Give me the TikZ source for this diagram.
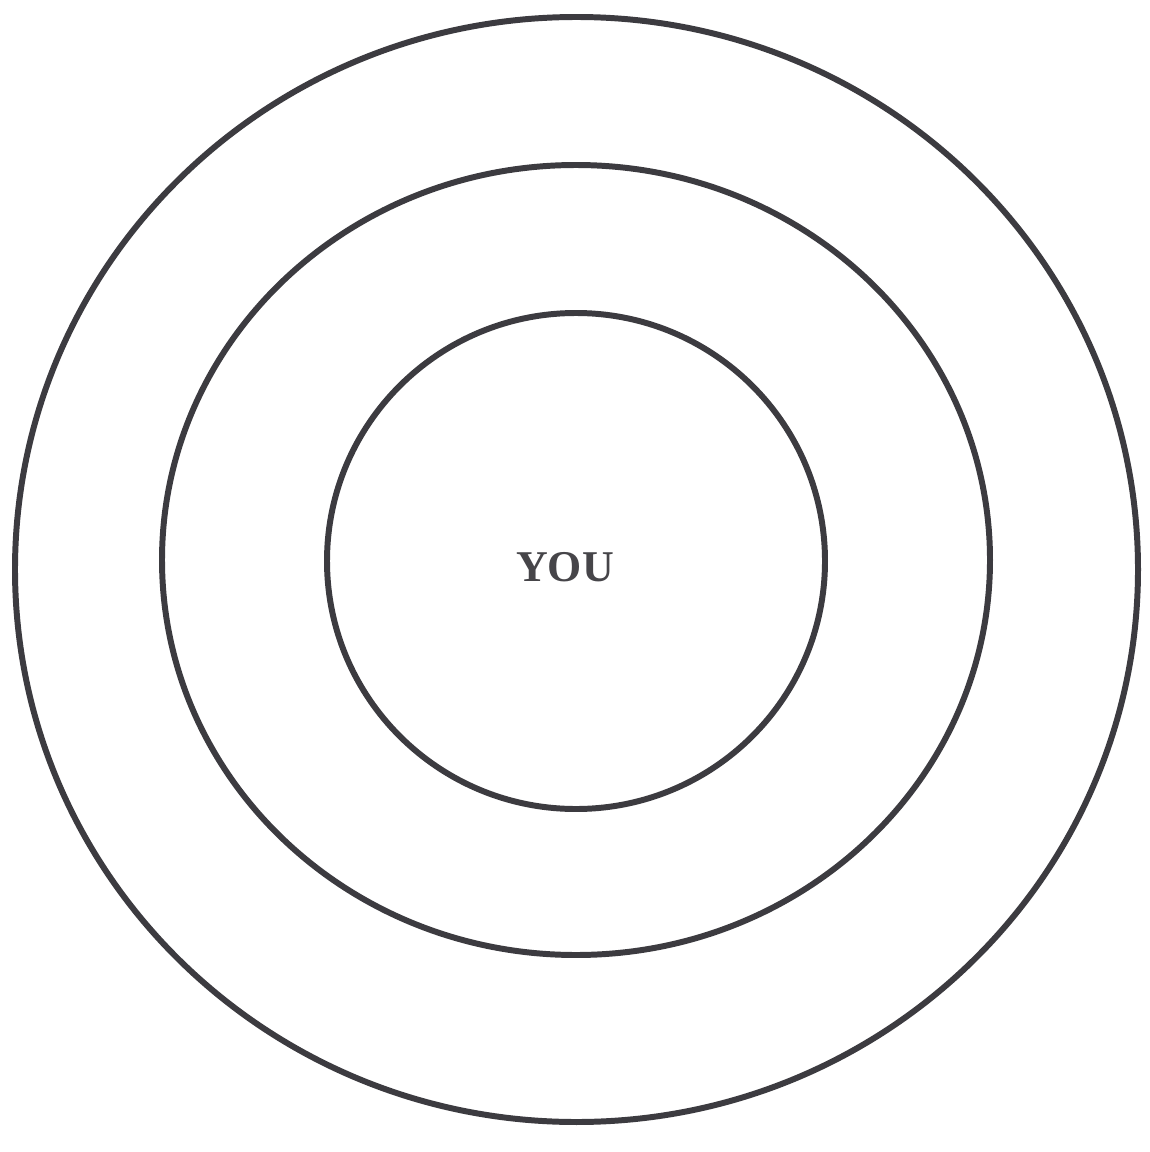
\documentclass[tikz,border=0pt]{standalone}
\usepackage{fontspec}
\setmainfont{Liberation Serif}
\usetikzlibrary{positioning}
\definecolor{ringgray}{HTML}{3C3B40}

\begin{document}
\begin{tikzpicture}[
        x=0.02cm, y=-0.02cm,
        ring/.style={draw=ringgray, line width=3.4pt},
        youtext/.style={font=\bfseries\fontsize{25}{30}\selectfont, text=ringgray!95!white, inner sep=0pt}
    ]
    \useasboundingbox[fill=white] (0,0) rectangle (1149,1152);

    % Rings, outer to inner
    \draw[ring] (576.5,569.5) ellipse (561.5 and 552.5);
    \draw[ring] (576,560) ellipse (414 and 395);
    \draw[ring] (576,561) ellipse (249 and 248);

    % Centre label
    \node[youtext] (you) at (565,567) {YOU};
\end{tikzpicture}
\end{document}
